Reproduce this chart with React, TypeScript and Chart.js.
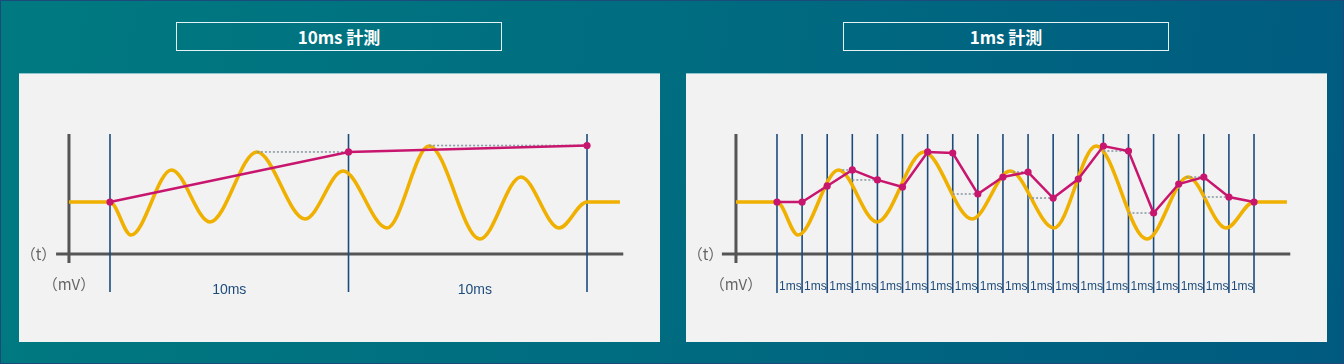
import React, { useEffect, useRef } from 'react';
import { Chart, registerables } from 'chart.js';
Chart.register(...registerables);

// Analog signal (time in ms, value in mV-units, baseline = 50)
const waveTime = [-1.72, 0, 0.88, 2.58, 4.19, 6.16, 8.18, 9.77, 11.61, 13.38, 15.51, 17.23, 18.83, 20, 21.38];
const waveValue = [50, 50, 18.3, 80.8, 30.8, 98.1, 33.7, 79.8, 25.0, 103.8, 14.4, 74.0, 25.0, 50, 50];

// 10ms sampling
const coarseTime = [0, 10, 20];
const coarseValue = [50, 98.1, 104.3];
const coarseLabels = ['10ms', '10ms'];
const coarseHoldStart = [6.16, 13.38];
const coarseHoldEnd = [10, 20];

// 1ms sampling (sample index)
const fineIndex = [0, 1, 2, 3, 4, 5, 6, 7, 8, 9, 10, 11, 12, 13, 14, 15, 16, 17, 18, 19];
const fineValue = [50, 50, 65.4, 80.8, 71.2, 64.4, 98.1, 97.1, 57.7, 74.0, 78.8, 53.8, 72.1, 103.8, 99.0, 39.4, 67.3, 74.0, 54.8, 50];
const fineLabels = ['1ms', '1ms', '1ms', '1ms', '1ms', '1ms', '1ms', '1ms', '1ms', '1ms', '1ms', '1ms', '1ms', '1ms', '1ms', '1ms', '1ms', '1ms', '1ms'];
const fineHoldStart = [2.6, 3, 7, 9.4, 10, 13, 14, 16.3, 17];
const fineHoldEnd = [3, 4, 8, 10, 11, 14, 15, 17, 18];

const X_MIN = -3.815;
const X_MAX = 23.06;
const Y_MIN = -84.6;
const Y_MAX = 174.0;

const NAVY = '#1d4c7c';
const GOLD = '#efb000';
const MAGENTA = '#c8166f';
const DOT = '#8c9aa6';
const AXIS = '#555555';

type Kind = 'coarse' | 'fine';

function SamplingChart({ kind }: { kind: Kind }) {
  const ref = useRef<HTMLCanvasElement | null>(null);
  useEffect(() => {
    if (!ref.current) return;
    const fine = kind === 'fine';
    const sScale = fine ? 'xs' : 'x';
    const ratio = 19 / 20;
    const sampleTimes = fine ? fineIndex : coarseTime;
    const sampleValues = fine ? fineValue : coarseValue;
    const labels = fine ? fineLabels : coarseLabels;
    const holdStart = fine ? fineHoldStart : coarseHoldStart;
    const holdEnd = fine ? fineHoldEnd : coarseHoldEnd;

    const holdSets = holdStart.map((s, i) => {
      const e = holdEnd[i];
      const v = sampleValues[sampleTimes.indexOf(e)];
      return {
        type: 'line' as const,
        data: [{ x: s, y: v }, { x: e, y: v }],
        xAxisID: sScale,
        borderColor: DOT,
        borderWidth: 1.6,
        borderDash: [2, 2],
        pointRadius: 0,
        order: 2,
      };
    });

    const guides = {
      id: 'guides',
      beforeDatasetsDraw(chart: any) {
        const { ctx } = chart;
        const x = chart.scales.x;
        const y = chart.scales.y;
        const s = chart.scales[sScale];
        ctx.save();
        // axes
        ctx.strokeStyle = AXIS;
        ctx.lineWidth = 3;
        ctx.beginPath();
        ctx.moveTo(x.getPixelForValue(-1.72), y.getPixelForValue(115.4));
        ctx.lineTo(x.getPixelForValue(-1.72), y.getPixelForValue(-8.65));
        ctx.moveTo(x.getPixelForValue(fine ? -2.31 : -2.26), y.getPixelForValue(0));
        ctx.lineTo(x.getPixelForValue(21.52), y.getPixelForValue(0));
        ctx.stroke();
        // sample lines
        ctx.strokeStyle = NAVY;
        ctx.lineWidth = 1.6;
        ctx.beginPath();
        sampleTimes.forEach((t) => {
          const px = s.getPixelForValue(t);
          ctx.moveTo(px, y.getPixelForValue(115.4));
          ctx.lineTo(px, y.getPixelForValue(fine ? -37.5 : -36.5));
        });
        ctx.stroke();
        // interval labels
        ctx.fillStyle = NAVY;
        ctx.textBaseline = 'middle';
        if (fine) {
          ctx.font = '12px "Liberation Sans Narrow", "Liberation Sans", sans-serif';
          ctx.textAlign = 'left';
          labels.forEach((l, i) => {
            ctx.fillText(l, s.getPixelForValue(sampleTimes[i]) + 2, y.getPixelForValue(-31.7));
          });
        } else {
          ctx.font = '14px "Liberation Sans Narrow", "Liberation Sans", sans-serif';
          ctx.textAlign = 'center';
          labels.forEach((l, i) => {
            const mid = (s.getPixelForValue(sampleTimes[i]) + s.getPixelForValue(sampleTimes[i + 1])) / 2;
            ctx.fillText(l, mid + (i === 1 ? 7 : 0), y.getPixelForValue(-34.6));
          });
        }
        // axis captions
        ctx.fillStyle = '#666666';
        ctx.font = '15px "Noto Sans CJK JP", sans-serif';
        ctx.textAlign = 'right';
        ctx.fillText('（t）', x.getPixelForValue(-2.25), y.getPixelForValue(0));
        ctx.textAlign = 'center';
        ctx.fillText('（mV）', x.getPixelForValue(-1.72), y.getPixelForValue(-28.8));
        ctx.restore();
      },
    };

    const scales: any = {
      x: { type: 'linear', min: X_MIN, max: X_MAX, display: false },
      y: { type: 'linear', min: Y_MIN, max: Y_MAX, display: false },
    };
    if (fine) {
      scales.xs = { type: 'linear', axis: 'x', min: X_MIN * ratio, max: X_MAX * ratio, display: false };
    }

    const chart = new Chart(ref.current, {
      type: 'line',
      data: {
        datasets: [
          {
            data: sampleTimes.map((t, i) => ({ x: t, y: sampleValues[i] })),
            xAxisID: sScale,
            borderColor: MAGENTA,
            backgroundColor: MAGENTA,
            borderWidth: 2.5,
            pointRadius: 3.6,
            pointBorderWidth: 0,
            tension: 0,
            order: 1,
          },
          ...holdSets,
          {
            data: waveTime.map((t, i) => ({ x: t, y: waveValue[i] })),
            xAxisID: 'x',
            borderColor: GOLD,
            borderWidth: 3.6,
            pointRadius: 0,
            cubicInterpolationMode: 'monotone',
            order: 3,
          },
        ] as any,
      },
      options: {
        responsive: false,
        animation: false,
        maintainAspectRatio: false,
        layout: { padding: 0, autoPadding: false },
        scales,
        plugins: { legend: { display: false }, tooltip: { enabled: false }, title: { display: false } },
        events: [],
      },
      plugins: [guides],
    });
    return () => chart.destroy();
  }, [kind]);
  return <canvas ref={ref} width={641} height={269} style={{ display: 'block' }} />;
}

function Title({ left, text }: { left: number; text: string }) {
  return (
    <div
      style={{
        position: 'absolute',
        left,
        top: 22,
        width: 326,
        height: 29,
        boxSizing: 'border-box',
        border: '1px solid #e6f3f6',
        color: '#ffffff',
        font: 'bold 17px "Noto Sans CJK JP", sans-serif',
        display: 'flex',
        alignItems: 'center',
        justifyContent: 'center',
      }}
    >
      {text}
    </div>
  );
}

function Panel({ left, kind }: { left: number; kind: Kind }) {
  return (
    <div
      style={{
        position: 'absolute',
        left,
        top: 73,
        width: 641,
        height: 269,
        background: '#f2f2f2',
        boxShadow: 'inset 0 1px 0 #8fc4cf',
      }}
    >
      <SamplingChart kind={kind} />
    </div>
  );
}

export default function App() {
  return (
    <div
      style={{
        position: 'fixed',
        left: 0,
        top: 0,
        width: 1344,
        height: 364,
        overflow: 'hidden',
        background: 'linear-gradient(100deg, #007a80 0%, #006c80 50%, #005a80 100%)',
        boxShadow: 'inset 0 0 0 1px #1c4a7a',
      }}
    >
      <Title left={176} text="10ms 計測" />
      <Title left={843} text="1ms 計測" />
      <Panel left={19} kind="coarse" />
      <Panel left={686} kind="fine" />
    </div>
  );
}
